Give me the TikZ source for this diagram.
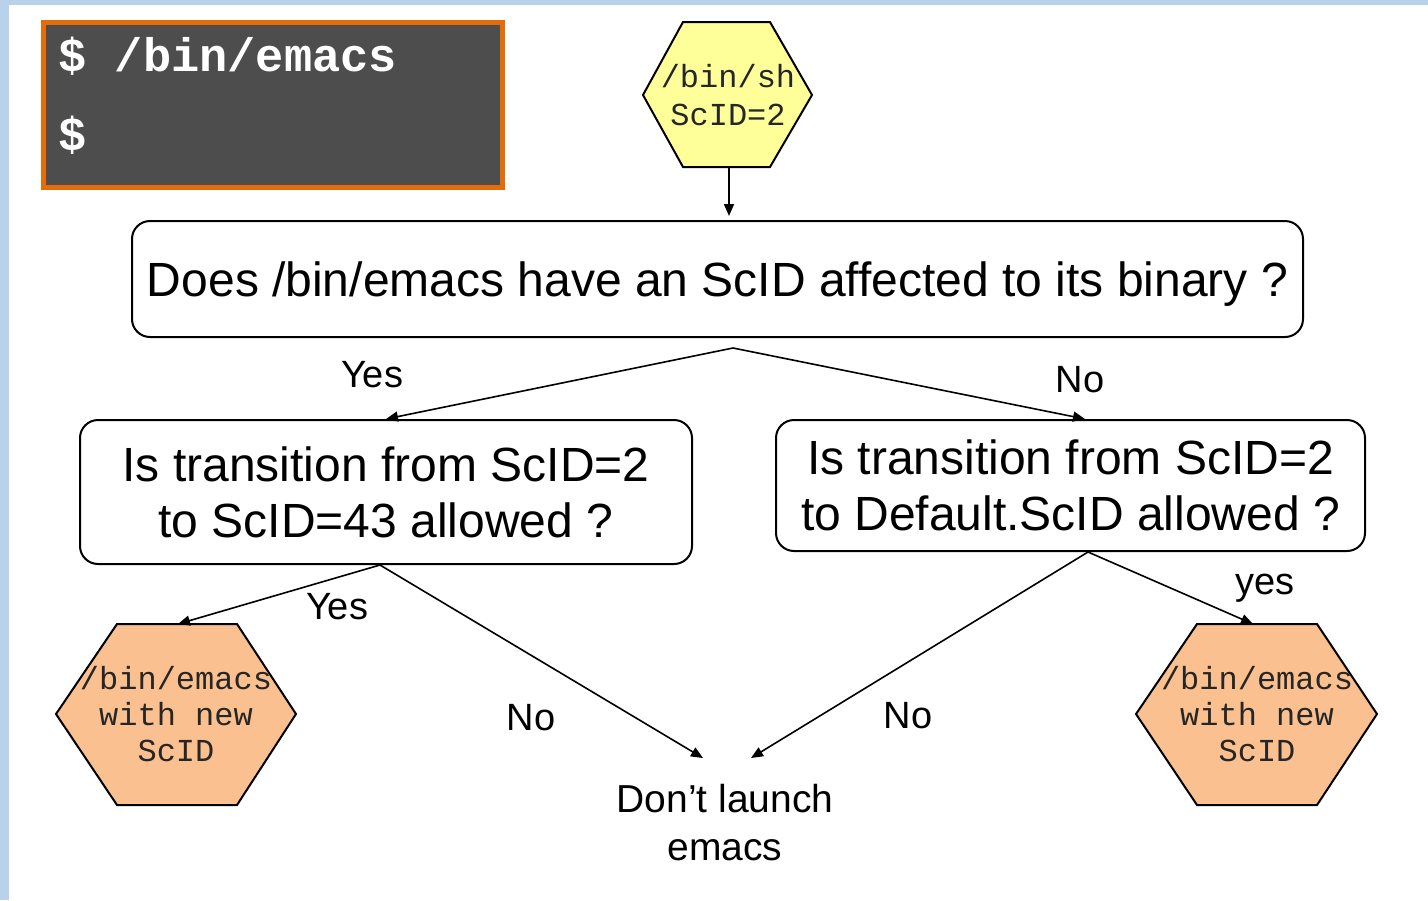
\documentclass[tikz,border=0pt]{standalone}
\usepackage{fontspec}
\setmainfont{Liberation Sans}
\newfontfamily\cour{Liberation Mono}
\usetikzlibrary{arrows.meta}
\definecolor{band}{HTML}{B9D1EA}
\definecolor{termfill}{HTML}{4D4D4D}
\definecolor{termedge}{HTML}{E46C0A}
\definecolor{hexyellow}{HTML}{FFFF99}
\definecolor{hexorange}{HTML}{FAC08F}
\tikzset{
  qbox/.style={draw=black, line width=1pt, rounded corners=9pt, fill=white, align=center,
    font=\fontsize{24pt}{28pt}\selectfont, inner sep=0pt},
  lbl/.style={font=\fontsize{19pt}{22pt}\selectfont, inner sep=0pt},
  arr/.style={line width=0.8pt, -{Triangle[length=6pt,width=5pt]}},
  hexy/.style={draw=black, line width=1pt, fill=hexyellow},
  hexo/.style={draw=black, line width=1pt, fill=hexorange},
  hext/.style={font=\cour\fontsize{16pt}{18pt}\selectfont, align=center, inner sep=0pt, text=black!85},
  termt/.style={font=\cour\bfseries\fontsize{23.5pt}{28pt}\selectfont, text=white, inner sep=0pt, anchor=base west}
}
\begin{document}
\begin{tikzpicture}[x=0.5pt,y=-0.5pt]
\useasboundingbox (0,0) rectangle (1428,900);
\fill[white] (0,0) rectangle (1428,900);
\fill[band] (0,0) rectangle (1428,5);
\fill[band] (0,0) rectangle (9,900);

% terminal
\node[draw=termedge, line width=2.5pt, fill=termfill, minimum width=229.5pt, minimum height=82.5pt, inner sep=0pt] (term) at (272.5,104.5) {};
\node[termt] (cmd1) at (58,71) {\$ /bin/emacs};
\node[termt] (cmd2) at (58,150) {\$};

% yellow hexagon
\draw[hexy] (683,22) -- (770,22) -- (812,95) -- (770,167) -- (683,167) -- (643,95) -- cycle;
\node[hext, font=\cour\fontsize{16pt}{19pt}\selectfont] (sh) at (728,95) {/bin/sh\\ScID=2};
\coordinate (shB) at (729,167);

% question boxes
\node[qbox, text depth=0pt, minimum width=585.5pt, minimum height=58pt] (q0) at (717.5,279) {Does /bin/emacs have an ScID affected to its binary ?};
\node[qbox, minimum width=306pt, minimum height=72pt] (q1) at (386,492) {Is transition from ScID=2\\to ScID=43 allowed ?};
\node[qbox, minimum width=294.5pt, minimum height=65.5pt] (q2) at (1070.5,485.5) {Is transition from ScID=2\\to Default.ScID allowed ?};

% orange hexagons
\draw[hexo] (117,624) -- (237,624) -- (296,714) -- (237,805) -- (117,805) -- (56,714) -- cycle;
\node[hext] (hL) at (176,714) {/bin/emacs\\with new\\ScID};
\draw[hexo] (1197,624) -- (1317,624) -- (1377,714) -- (1317,805) -- (1197,805) -- (1136,714) -- cycle;
\node[hext] (hR) at (1257,714) {/bin/emacs\\with new\\ScID};
\coordinate (hLT) at (178,624);
\coordinate (hRT) at (1253,624);

% don't launch
\node[align=center, font=\fontsize{19.5pt}{24pt}\selectfont, inner sep=0pt] (dl) at (725,823) {Don’t launch\\emacs};
\coordinate (dlL) at (703,758);
\coordinate (dlR) at (751,758);

% split points
\coordinate (s0) at (733,348);
\coordinate (s1) at (380,565);
\coordinate (s2) at (1088,552);
\coordinate (q0T) at (729,216);
\coordinate (q1T) at (386,419);
\coordinate (q2T) at (1085,419);

% connectors
\draw[arr] (shB) -- (q0T);
\draw[arr] (s0) -- (q1T);
\draw[arr] (s0) -- (q2T);
\draw[arr] (s1) -- (hLT);
\draw[arr] (s1) -- (dlL);
\draw[arr] (s2) -- (dlR);
\draw[arr] (s2) -- (hRT);

% labels
\node[lbl] (l1) at (372,375) {Yes};
\node[lbl] (l2) at (1080,380) {No};
\node[lbl] (l3) at (337,607) {Yes};
\node[lbl] (l4) at (531,718) {No};
\node[lbl] (l5) at (908,716) {No};
\node[lbl] (l6) at (1265,588) {yes};
\end{tikzpicture}
\end{document}
